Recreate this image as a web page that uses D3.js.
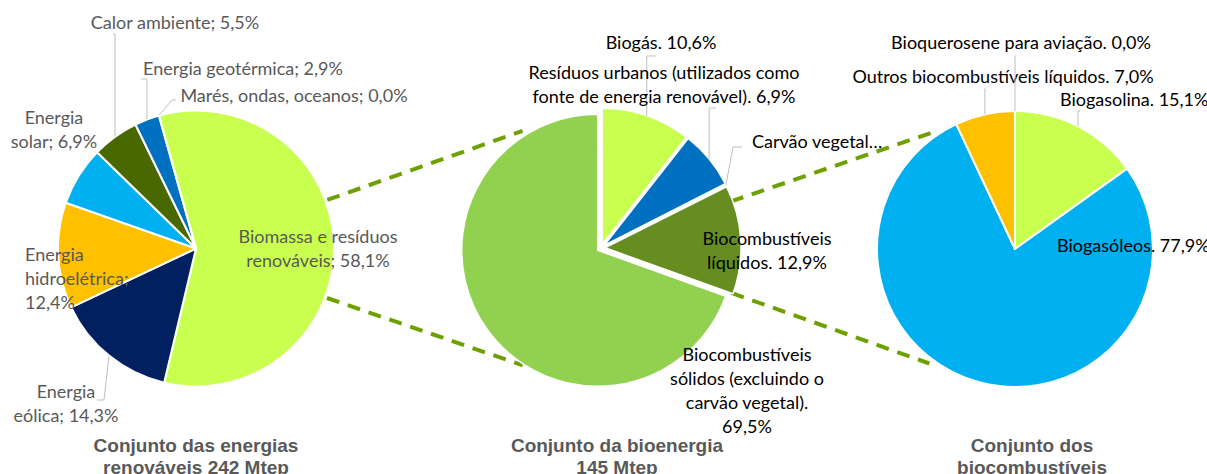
<!DOCTYPE html>
<html>
<head>
<meta charset="utf-8">
<script src="https://cdn.jsdelivr.net/npm/d3@7"></script>
<style>
  body { margin: 0; background: #fff; }
  svg { display: block; }
</style>
</head>
<body>
<svg id="chart" width="1207" height="474"></svg>
<script>
// Data
const renovLabels = ["Biomassa e resíduos renováveis", "Energia eólica", "Energia hidroelétrica",
  "Energia solar", "Calor ambiente", "Energia geotérmica", "Marés, ondas, oceanos"];
const renovValues = [58.1, 14.3, 12.4, 6.9, 5.5, 2.9, 0.0];

const bioLabels = ["Biogás", "Resíduos urbanos", "Carvão vegetal", "Biocombustíveis líquidos", "Biocombustíveis sólidos"];
const bioValues = [10.6, 6.9, 0.1, 12.9, 69.5];

const fuelLabels = ["Biogasolina", "Biogasóleos", "Outros biocombustíveis líquidos", "Bioquerosene para aviação"];
const fuelValues = [15.1, 77.9, 7.0, 0.0];

const titles = [
  ["Conjunto das energias", "renováveis 242 Mtep"],
  ["Conjunto da bioenergia", "145 Mtep"],
  ["Conjunto dos", "biocombustíveis"]
];

// Colours
const renovColors = ["#c9ff4f", "#002060", "#ffc000", "#00b0f0", "#4a6800", "#0070c0", "#ffffff"];
const bioColors = ["#c9ff4f", "#0070c0", "#4a6800", "#658d1f", "#92d050"];
const fuelColors = ["#c9ff4f", "#00b0f0", "#ffc000", "#ffffff"];

const svg = d3.select("#chart");
const rad = deg => deg * Math.PI / 180;

// Pie layout
const pies = [
  { labels: renovLabels, values: renovValues, colors: renovColors, cx: 196, cy: 248.5, r: 138, start: -15.6, explode: 0, textColor: "#595959",
    text: [
      { lines: ["Biomassa e resíduos", "renováveis; 58,1%"], x: 318, y: 237, anchor: "middle" },
      { lines: ["Energia", "eólica; 14,3%"], x: 66, y: 392, anchor: "middle", leader: [[97, 400], [104, 400]] },
      { lines: ["Energia", "hidroelétrica;", "12,4%"], x: 25, y: 255, anchor: "start" },
      { lines: ["Energia", "solar; 6,9%"], x: 54, y: 118, anchor: "middle" },
      { lines: ["Calor ambiente; 5,5%"], x: 175, y: 23, anchor: "middle", leader: [[113, 34]] },
      { lines: ["Energia geotérmica; 2,9%"], x: 243, y: 69, anchor: "middle", leader: [[141, 79]] },
      { lines: ["Marés, ondas, oceanos; 0,0%"], x: 294, y: 96, anchor: "middle", leader: [[176, 100], [172, 100]] }
    ] },
  { labels: bioLabels, values: bioValues, colors: bioColors, cx: 601, cy: 248, r: 136, start: 0, explode: 4, textColor: "#000",
    text: [
      { lines: ["Biogás. 10,6%"], x: 661, y: 43, anchor: "middle", leader: [[656, 56]] },
      { lines: ["Resíduos urbanos (utilizados como", "fonte de energia renovável). 6,9%"], x: 664, y: 73, anchor: "middle", leader: [[716, 108]] },
      { lines: ["Carvão vegetal…"], x: 752, y: 142, anchor: "start", leader: [[742, 147], [733, 147]] },
      { lines: ["Biocombustíveis", "líquidos. 12,9%"], x: 767, y: 239, anchor: "middle" },
      { lines: ["Biocombustíveis", "sólidos (excluindo o", "carvão vegetal).", "69,5%"], x: 747, y: 355, anchor: "middle" }
    ] },
  { labels: fuelLabels, values: fuelValues, colors: fuelColors, cx: 1015, cy: 249, r: 138, start: 0, explode: 0, textColor: "#000",
    text: [
      { lines: ["Biogasolina. 15,1%"], x: 1060, y: 100, anchor: "start", leader: [[1080, 111]] },
      { lines: ["Biogasóleos. 77,9%"], x: 1057, y: 246, anchor: "start" },
      { lines: ["Outros biocombustíveis líquidos. 7,0%"], x: 1003, y: 77, anchor: "middle", leader: [[986, 89]] },
      { lines: ["Bioquerosene para aviação. 0,0%"], x: 1021, y: 43, anchor: "middle", leader: [[1016, 56]] }
    ] }
];

// Dashed connectors: [pie, angle, pie, angle]
const connectors = [
  [0, 69.7, 1, 326.2],
  [0, 110.7, 1, 213.7],
  [1, 70.3, 2, 324.5],
  [1, 109, 2, 216.8]
];

const lineH = 24;

// Connectors drawn under pies
const connG = svg.append("g");
connectors.forEach(c => {
  const a = pies[c[0]], b = pies[c[2]];
  const p1 = [a.cx + (a.r + 2) * Math.sin(rad(c[1])), a.cy - (a.r + 2) * Math.cos(rad(c[1]))];
  const p2 = [b.cx + (b.r + 5) * Math.sin(rad(c[3])), b.cy - (b.r + 5) * Math.cos(rad(c[3]))];
  connG.append("line")
    .attr("x1", p1[0]).attr("y1", p1[1])
    .attr("x2", p2[0]).attr("y2", p2[1])
    .attr("stroke", "#6ea000")
    .attr("stroke-width", 4)
    .attr("stroke-dasharray", "13,9");
});

pies.forEach(p => {
  const pie = d3.pie().sort(null).value(d => d)
    .startAngle(rad(p.start)).endAngle(rad(p.start) + 2 * Math.PI);
  const arcs = pie(p.values);
  const arc = d3.arc().innerRadius(0).outerRadius(p.r);
  const color = d3.scaleOrdinal().domain(p.labels).range(p.colors);

  const g = svg.append("g").attr("transform", `translate(${p.cx},${p.cy})`);

  const mid = d => (d.startAngle + d.endAngle) / 2;
  const off = d => [p.explode * Math.sin(mid(d)), -p.explode * Math.cos(mid(d))];

  g.selectAll("path")
    .data(arcs)
    .enter().append("path")
    .attr("d", arc)
    .attr("transform", d => `translate(${off(d)[0]},${off(d)[1]})`)
    .attr("fill", (d, i) => color(p.labels[i]))
    .attr("stroke", "#fff")
    .attr("stroke-width", p.explode ? 1.5 : 2)
    .attr("stroke-linejoin", "round");

  // Labels and leader lines
  p.text.forEach((t, i) => {
    const d = arcs[i];
    if (t.leader) {
      const a = mid(d);
      const end = [p.cx + off(d)[0] + p.r * Math.sin(a), p.cy + off(d)[1] - p.r * Math.cos(a)];
      const pts = t.leader.length === 1
        ? [t.leader[0], [end[0], t.leader[0][1]], end]
        : t.leader.concat([end]);
      svg.append("path")
        .attr("d", d3.line()(pts))
        .attr("fill", "none")
        .attr("stroke", "#bfbfbf")
        .attr("stroke-width", 1);
    }
    const txt = svg.append("text")
      .attr("x", t.x)
      .attr("y", t.y)
      .attr("text-anchor", t.anchor)
      .style("font-family", "Lato, 'Open Sans', sans-serif")
      .style("font-size", "18px")
      .style("fill", p.textColor);
    t.lines.forEach((ln, j) => {
      txt.append("tspan")
        .attr("x", t.x)
        .attr("y", t.y + j * lineH)
        .attr("dy", "0.35em")
        .text(ln);
    });
  });
});

// Titles
titles.forEach((t, i) => {
  const txt = svg.append("text")
    .attr("text-anchor", "middle")
    .style("font-family", "'Liberation Sans', Arial, sans-serif")
    .style("font-weight", "bold")
    .style("font-size", "19px")
    .style("fill", "#595959");
  t.forEach((ln, j) => {
    txt.append("tspan")
      .attr("x", [196, 617, 1032][i])
      .attr("y", 445 + j * 22)
      .attr("dy", "0.35em")
      .text(ln);
  });
});
</script>
</body>
</html>
